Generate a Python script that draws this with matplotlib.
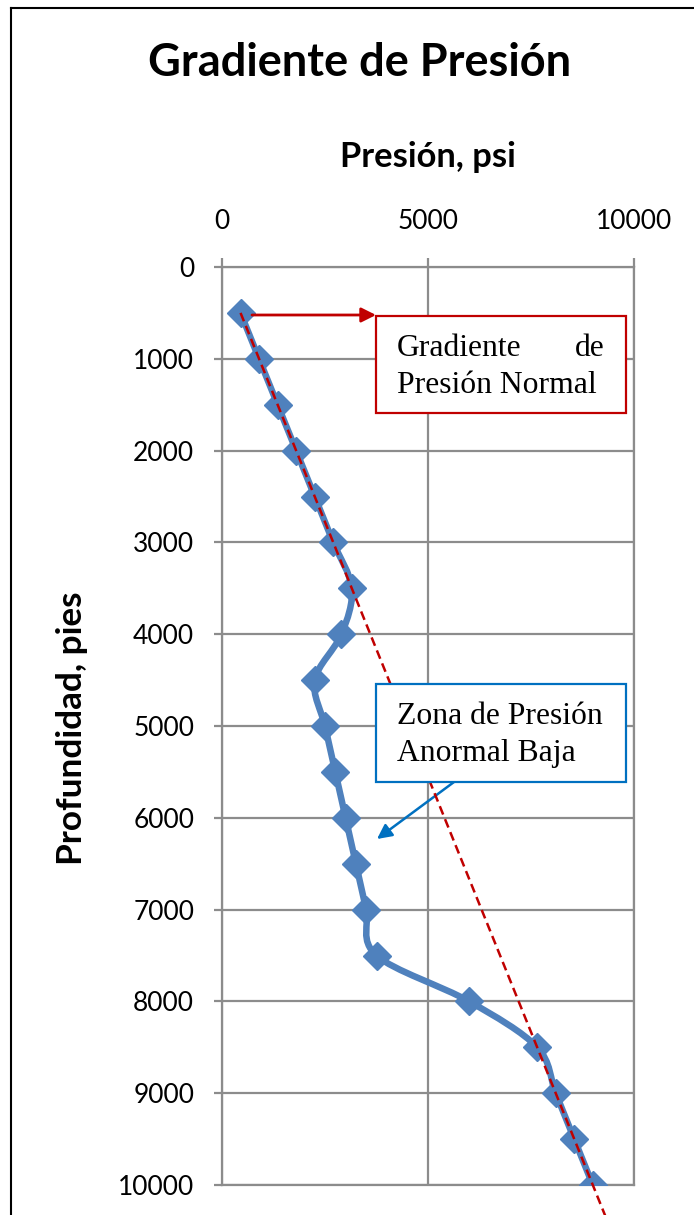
import numpy as np
import matplotlib
matplotlib.use("Agg")
import matplotlib.pyplot as plt
from matplotlib.path import Path
from matplotlib.patches import PathPatch, Rectangle, FancyArrowPatch
from matplotlib.lines import Line2D

# ---- data ----
depth = [500, 1000, 1500, 2000, 2500, 3000, 3500, 4000, 4500, 5000,
         5500, 6000, 6500, 7000, 7500, 8000, 8500, 9000, 9500, 10000]
pressure = [450, 900, 1350, 1800, 2250, 2700, 3150, 2900, 2250, 2500,
            2750, 3000, 3250, 3500, 3750, 6000, 7650, 8100, 8550, 9000]
normal_depth = [500, 10400]
normal_pressure = [450, 9360]
x_ticks = [0, 5000, 10000]
y_ticks = list(range(0, 10001, 1000))

title = "Gradiente de Presión"
x_label = "Presión, psi"
y_label = "Profundidad, pies"

W, H = 694, 1215
SANS = ["Lato", "DejaVu Sans"]
SERIF = ["Liberation Serif", "DejaVu Serif"]

fig = plt.figure(figsize=(W / 100, H / 100), dpi=100)
fig.patch.set_facecolor("white")

def fx(x):
    return x / W

def fy(y):
    return 1 - y / H

ax = fig.add_axes([fx(222), fy(1185), (634 - 222) / W, (1185 - 267) / H])
ax.set_xlim(0, 10000)
ax.set_ylim(10000, 0)
ax.xaxis.tick_top()
ax.set_xticks(x_ticks)
ax.set_yticks(y_ticks)
ax.set_xticklabels([str(v) for v in x_ticks], family=SANS, fontsize=19)
ax.set_yticklabels([str(v) for v in y_ticks], family=SANS, fontsize=19)
grid_c = "#8c8c8c"
ax.grid(True, color=grid_c, lw=1.6)
for s in ax.spines.values():
    s.set_color(grid_c)
    s.set_linewidth(1.6)
ax.tick_params(axis="x", direction="out", length=6.5, width=1.6, color=grid_c, pad=17)
ax.tick_params(axis="y", direction="out", length=6, width=1.6, color=grid_c, pad=14)
ax.set_axisbelow(True)

# smoothed line (Catmull-Rom Bezier through data points)
pts = np.column_stack([pressure, depth]).astype(float)
n = len(pts)
verts = [pts[0]]
codes = [Path.MOVETO]
for i in range(n - 1):
    p0 = pts[max(i - 1, 0)]
    p1 = pts[i]
    p2 = pts[i + 1]
    p3 = pts[min(i + 2, n - 1)]
    verts += [p1 + (p2 - p0) / 6.0, p2 - (p3 - p1) / 6.0, p2]
    codes += [Path.CURVE4] * 3
blue = "#4F81BD"
ax.add_patch(PathPatch(Path(verts, codes), fill=False, edgecolor=blue, lw=4.7,
                       capstyle="round", joinstyle="round", zorder=3))
ax.plot(pressure, depth, ls="none", marker="D", ms=14, color=blue, zorder=4)

# normal gradient (dashed red)
red = "#C00000"
ax.plot(normal_pressure, normal_depth, color=red, lw=1.8, dashes=(3.6, 2.0),
        clip_on=False, zorder=6)

# annotation boxes
def px2d(x, y):
    return ((x - 222) / 412 * 10000, (y - 267) / 918 * 10000)

def box(x0, y0, x1, y1, color):
    a = px2d(x0, y0)
    b = px2d(x1, y1)
    ax.add_patch(Rectangle(a, b[0] - a[0], b[1] - a[1], facecolor="white",
                           edgecolor=color, lw=1.6, zorder=7, clip_on=False))

box(376, 316, 626, 413, red)
box(376, 684, 626, 782, "#0070C0")

fs_box = 22.8
t_kw = dict(family=SERIF, fontsize=fs_box, color="black", va="baseline", zorder=8)
ax.text(*px2d(397, 356), "Gradiente", ha="left", **t_kw)
ax.text(*px2d(605, 356), "de", ha="right", **t_kw)
ax.text(*px2d(397, 393), "Presión Normal", ha="left", **t_kw)
ax.text(*px2d(397, 724), "Zona de Presión", ha="left", **t_kw)
ax.text(*px2d(397, 761), "Anormal Baja", ha="left", **t_kw)

# arrows
ax.add_patch(FancyArrowPatch(px2d(252, 315), px2d(376, 315), arrowstyle="-|>",
                             mutation_scale=22, color=red, lw=2.0, zorder=5,
                             shrinkA=0, shrinkB=0, clip_on=False))
ax.add_patch(FancyArrowPatch(px2d(454, 782), px2d(377, 839), arrowstyle="-|>",
                             mutation_scale=22, color="#0070C0", lw=1.8, zorder=5,
                             shrinkA=0, shrinkB=0, clip_on=False))

# titles
t = fig.text(fx(360), fy(76), title, family=SANS, fontweight="bold", fontsize=33,
             ha="center", va="baseline")
xl = fig.text(fx(428), fy(167), x_label, family=SANS, fontweight="bold", fontsize=19,
              ha="center", va="baseline")
yl = fig.text(fx(72), fy(728), y_label, family=SANS, fontweight="bold", fontsize=19,
              ha="center", va="center", rotation=90)

fig.canvas.draw()
r = fig.canvas.get_renderer()
for obj, target in [(t, 424), (xl, 175), (yl, 273)]:
    bb = obj.get_window_extent(r)
    size = bb.height if obj is yl else bb.width
    obj.set_fontsize(obj.get_fontsize() * target / size)

# outer frame (left and top edges visible)
fig.add_artist(Line2D([fx(11), fx(11)], [0, fy(8)], color="black", lw=1.5))
fig.add_artist(Line2D([fx(11), 1], [fy(8), fy(8)], color="black", lw=1.5))

fig.savefig("out.png", dpi=100)
